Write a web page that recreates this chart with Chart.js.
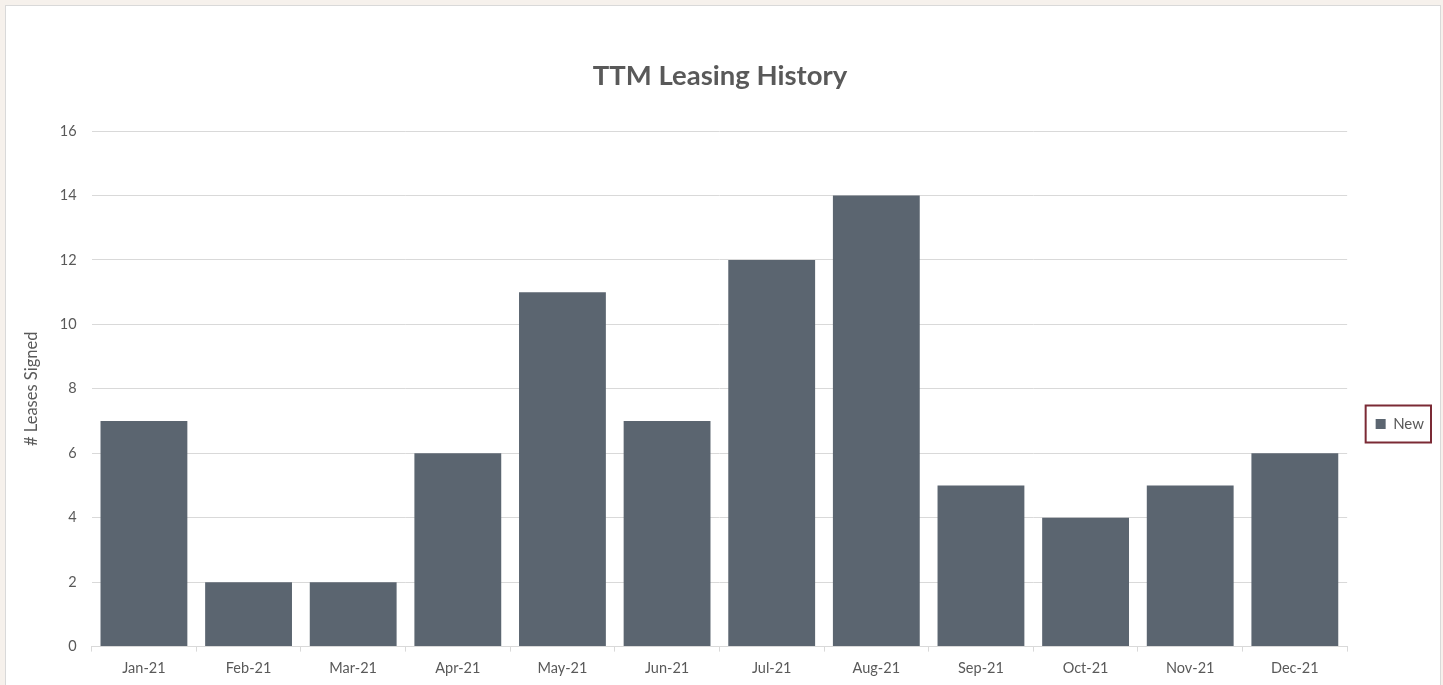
<!DOCTYPE html>
<html>
<head>
<meta charset="utf-8">
<script src="https://cdn.jsdelivr.net/npm/chart.js@4.4.1/dist/chart.umd.min.js"></script>
<style>
    body { margin: 0; background: #f6f1ec; }
    #frame {
        position: absolute; left: 5px; top: 5px;
        width: 1434px; height: 690px;
        background: #fff; border: 1px solid #d9d9d9;
    }
    #chartBox { position: absolute; left: 0; top: 0; width: 1434px; height: 679px; }
</style>
</head>
<body>
<div id="frame"><div id="chartBox"><canvas id="leasingChart"></canvas></div></div>
<script>
const months = ['Jan-21', 'Feb-21', 'Mar-21', 'Apr-21', 'May-21', 'Jun-21',
    'Jul-21', 'Aug-21', 'Sep-21', 'Oct-21', 'Nov-21', 'Dec-21'];
const newLeases = [7, 2, 2, 6, 11, 7, 12, 14, 5, 4, 5, 6];
const yTicks = [0, 2, 4, 6, 8, 10, 12, 14, 16];

const textColor = '#595959';
const gridColor = '#d9d9d9';
const fontFamily = 'Lato, "Open Sans", sans-serif';

// draws the boxed frame around the legend item
const legendBorder = {
    id: 'legendBorder',
    afterDraw(chart) {
        const legend = chart.legend;
        if (!legend || !legend.legendHitBoxes.length) return;
        const hb = legend.legendHitBoxes[0];
        const ctx = chart.ctx;
        ctx.save();
        ctx.strokeStyle = '#7b2a35';
        ctx.lineWidth = 2;
        ctx.strokeRect(hb.left - 10, hb.top - 11, hb.width + 17, hb.height + 22);
        ctx.restore();
    }
};

const ctx = document.getElementById('leasingChart').getContext('2d');

new Chart(ctx, {
    type: 'bar',
    data: {
        labels: months,
        datasets: [{
            label: 'New',
            data: newLeases,
            backgroundColor: '#5b6570',
            barPercentage: 0.83,
            categoryPercentage: 1
        }]
    },
    options: {
        responsive: true,
        maintainAspectRatio: false,
        animation: false,
        layout: { padding: { left: 0, right: 6, top: 0, bottom: 0 } },
        scales: {
            x: {
                grid: {
                    display: true,
                    drawOnChartArea: false,
                    drawTicks: true,
                    tickLength: 5,
                    color: gridColor
                },
                border: { color: gridColor },
                ticks: {
                    color: textColor,
                    padding: 8,
                    font: { family: fontFamily, size: 14.5 }
                }
            },
            y: {
                min: 0,
                max: 16,
                afterBuildTicks(axis) {
                    axis.ticks = yTicks.map(v => ({ value: v }));
                },
                grid: { color: gridColor, drawTicks: false },
                border: { display: false },
                ticks: {
                    color: textColor,
                    padding: 15,
                    font: { family: fontFamily, size: 14.5 }
                },
                title: {
                    display: true,
                    text: '# Leases Signed',
                    color: textColor,
                    padding: { top: 16, bottom: 3 },
                    font: { family: fontFamily, size: 16.5 }
                }
            }
        },
        plugins: {
            title: {
                display: true,
                text: 'TTM Leasing History',
                color: textColor,
                padding: { top: 54, bottom: 38 },
                font: { family: fontFamily, size: 27.5, weight: 'bold' }
            },
            legend: {
                position: 'right',
                fullSize: false,
                title: { display: true, text: '', padding: { top: 56, bottom: 0 } },
                labels: {
                    color: textColor,
                    boxWidth: 10,
                    boxHeight: 10,
                    padding: 28.5,
                    font: { family: fontFamily, size: 15 }
                }
            },
            tooltip: { enabled: false }
        }
    },
    plugins: [legendBorder]
});
</script>
</body>
</html>
